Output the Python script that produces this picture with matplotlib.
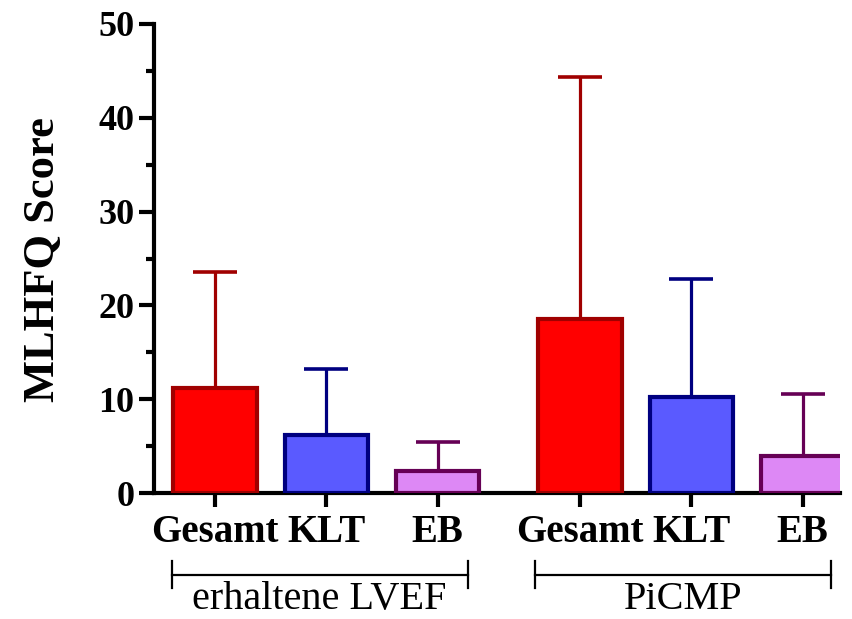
import matplotlib
matplotlib.use("Agg")
import matplotlib.pyplot as plt
import matplotlib.transforms as mtransforms
from matplotlib.ticker import MultipleLocator
import numpy as np

# Data
groups = ["erhaltene LVEF", "PiCMP"]
categories = ["Gesamt", "KLT", "EB"]
means_lvef = [11.2, 6.2, 2.3]
sd_lvef = [12.4, 7.0, 3.1]
means_picmp = [18.5, 10.2, 3.95]
sd_picmp = [25.9, 12.65, 6.65]

fill_colors = ["#FF0000", "#5A5AFF", "#DD88F5"]
edge_colors = ["#A00000", "#000080", "#660055"]

plt.rcParams["font.family"] = ["Liberation Serif", "DejaVu Serif"]

fig = plt.figure(figsize=(8.52, 6.19), dpi=100)
ax = fig.add_axes([154 / 852, 126 / 619, 686 / 852, 469 / 619])

group_offset = 3.28
pos_lvef = np.arange(3)
pos_picmp = np.arange(3) + group_offset
positions = np.concatenate([pos_lvef, pos_picmp])
means = means_lvef + means_picmp
sds = sd_lvef + sd_picmp

for i, (x, m, s) in enumerate(zip(positions, means, sds)):
    c = i % 3
    ax.errorbar(x, m, yerr=[[0], [s]], fmt="none", ecolor=edge_colors[c],
                elinewidth=2.3, capsize=15.5, capthick=2.6, zorder=2)
    ax.bar(x, m, width=0.75, color=fill_colors[c], edgecolor=edge_colors[c],
           linewidth=3.0, zorder=3)

ax.set_ylim(0, 50)
ax.set_xlim(-0.548, 5.615)
ax.yaxis.set_major_locator(MultipleLocator(10))
ax.yaxis.set_minor_locator(MultipleLocator(5))

for sp in ["top", "right"]:
    ax.spines[sp].set_visible(False)
for sp in ["left", "bottom"]:
    ax.spines[sp].set_linewidth(3.0)
    ax.spines[sp].set_capstyle("projecting")

ax.tick_params(axis="y", which="major", length=11, width=3.0, direction="out",
               labelsize=26, pad=3)
ax.tick_params(axis="y", which="minor", length=6, width=3.0, direction="out")
ax.tick_params(axis="x", which="major", length=10, width=3.0, direction="out",
               labelsize=28, pad=5)
for lab in ax.get_yticklabels():
    lab.set_fontweight("bold")

ax.set_xticks(positions)
ax.set_xticklabels(categories * 2, fontweight="bold")

# Group brackets below the category labels
trans = mtransforms.blended_transform_factory(ax.transData, ax.transAxes)
brackets = [(-0.39, 2.27), (2.875, 5.535)]
for (x0, x1), name in zip(brackets, groups):
    ax.plot([x0, x1], [-0.175, -0.175], color="black", lw=1.6,
            transform=trans, clip_on=False)
    for xe in (x0, x1):
        ax.plot([xe, xe], [-0.146, -0.203], color="black", lw=1.6,
                transform=trans, clip_on=False)
    ax.text((x0 + x1) / 2, -0.247, name, transform=trans, ha="center",
            va="baseline", fontsize=29)

fig.text(43 / 852, 1 - 260 / 619, "MLHFQ Score", rotation=90, ha="center",
         va="center", fontsize=32, fontweight="bold")

fig.savefig("out.png", dpi=100)
